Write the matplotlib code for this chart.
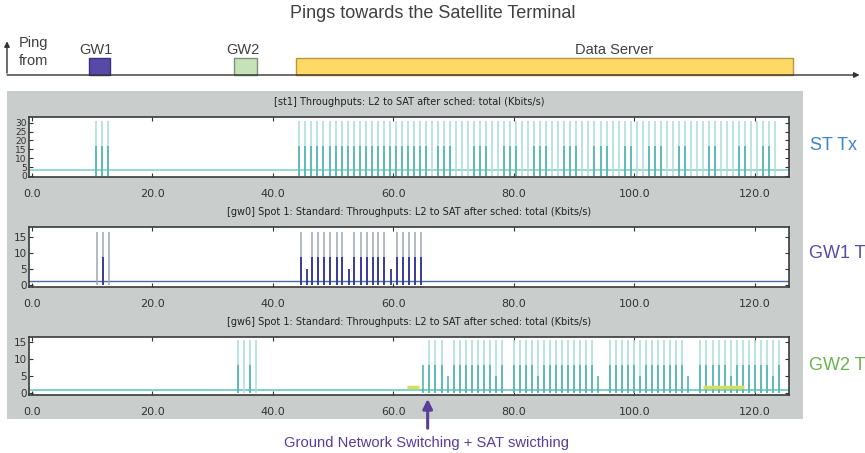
import matplotlib.pyplot as plt
from matplotlib.patches import Rectangle

W, H = 865, 453

# ---- data ----
time_ticks = [0, 20, 40, 60, 80, 100, 120]
time_labels = ["0.0", "20.0", "40.0", "60.0", "80.0", "100.0", "120.0"]

# ping sources (top diagram), seconds
ping_names = ["GW1", "GW2", "Data Server"]
ping_start = [9.4, 33.5, 43.9]
ping_end = [13.0, 37.3, 126.3]
ping_label_x = [10.6, 35.0, 96.6]

# [st1] spikes
st_t = [10.6, 11.6, 12.6,
        44.4, 45.4, 46.4, 47.4, 48.4, 49.4, 50.4, 51.4, 52.4, 53.4, 54.4, 55.4,
        56.4, 57.4, 58.4, 59.4, 60.4, 61.4, 62.4, 63.4, 64.4, 65.4, 66.4, 67.4,
        68.4, 69.4, 70.4, 71.4, 72.4, 73.4, 74.4, 75.4, 76.4, 77.4, 78.4, 79.4,
        80.4, 81.4, 82.4, 83.4, 84.4, 85.4, 86.4, 87.4, 88.4, 89.4, 90.4, 91.4,
        92.4, 93.4, 94.4, 95.4, 96.4, 97.4, 98.4, 99.4, 100.4, 101.4, 102.4,
        103.4, 104.4, 105.4, 106.4, 107.4, 108.4, 109.4, 110.4, 111.4, 112.4,
        113.4, 114.4, 115.4, 116.4, 117.4, 118.4, 119.4, 120.4, 121.4, 122.4,
        123.4]
st_peak = 31
st_dark_t = [10.6, 11.6, 12.6,
             44.4, 45.4, 46.4, 47.4, 48.4, 49.4, 50.4, 51.4, 52.4, 53.4, 54.4,
             55.4, 56.4, 57.4, 58.4, 59.4, 60.4, 61.4, 62.4, 63.4, 64.4, 65.4,
             67.4, 68.4, 69.4, 73.4, 74.4, 75.4, 78.4, 79.4, 80.4, 83.4, 84.4,
             85.4, 88.4, 89.4, 90.4, 93.4, 94.4, 95.4, 98.4, 99.4, 102.4, 103.4,
             104.4, 107.4, 108.4, 112.4, 113.4, 117.4, 118.4, 121.4, 122.4]
st_dark_v = 17
st_base = 3.2

# [gw0] spikes
gw1_t = [10.8, 11.8, 12.8, 44.6, 46.5, 47.5, 48.5, 49.5, 50.6, 51.5, 53.5,
         54.6, 55.6, 56.6, 57.5, 58.5, 60.6, 61.6, 62.6, 63.6, 64.6]
gw1_peak = 16.6
gw1_dark_t = [11.8, 44.6, 45.6, 46.5, 47.5, 48.5, 49.5, 50.6, 51.5, 52.6,
              53.5, 54.6, 55.6, 56.6, 57.5, 58.5, 59.6, 60.6, 61.6, 62.6,
              63.6, 64.6]
gw1_dark_v = [8.8, 8.8, 5.0, 8.8, 8.8, 8.8, 8.8, 8.8, 8.8, 5.0, 8.8, 8.8,
              8.8, 8.8, 8.8, 8.8, 5.0, 8.8, 8.8, 8.8, 8.8, 8.8]
gw1_base = 1.4

# [gw6] spikes
gw2_t = [34.2, 35.2, 36.2, 37.2,
         66, 67, 68, 70, 71, 72, 73, 74, 75, 76, 77, 78, 80, 81, 82, 83, 84,
         85, 86, 87, 88, 89, 90, 91, 92, 93, 96, 97, 98, 99, 100, 101, 102,
         103, 104, 105, 106, 107, 108, 111, 112, 113, 114, 115, 116, 117,
         118, 119, 120, 121, 122, 123, 124]
gw2_peak = 15.6
gw2_dark_t = [34.2, 36.2,
              65, 66, 67, 68, 69, 70, 71, 72, 73, 74, 75, 76, 77, 78, 80, 81,
              82, 83, 84, 85, 86, 87, 88, 89, 90, 91, 92, 93, 94, 96, 97, 98,
              99, 100, 101, 102, 103, 104, 105, 106, 107, 108, 109, 111, 112,
              113, 114, 115, 116, 117, 118, 119, 120, 121, 122, 123, 124]
gw2_dark_v = [8.2, 8.2,
              8.2, 8.2, 8.2, 8.2, 5.0, 8.2, 8.2, 8.2, 8.2, 8.2, 8.2, 8.2, 5.0,
              8.2, 8.2, 8.2, 8.2, 8.2, 5.0, 8.2, 8.2, 8.2, 8.2, 8.2, 8.2, 8.2,
              8.2, 8.2, 5.0, 8.2, 8.2, 8.2, 8.2, 8.2, 5.0, 8.2, 8.2, 8.2, 8.2,
              8.2, 8.2, 8.2, 5.0, 8.2, 8.2, 8.2, 8.2, 8.2, 5.0, 8.2, 8.2, 8.2,
              8.2, 8.2, 8.2, 5.0, 8.2]
gw2_base = 0.8
gw2_yel_start = [62.3, 111.5]
gw2_yel_end = [64.3, 118.3]
gw2_yel_v = 1.8

switch_t = 65.7

# ---- layout ----
xlo, xhi = -0.5, 125.7
ax_left, ax_right = 29, 789
sans = "Liberation Sans"

fig = plt.figure(figsize=(W / 100, H / 100), dpi=100)


def px_axes(x0, y0, x1, y1, **kw):
    return fig.add_axes([x0 / W, 1 - y1 / H, (x1 - x0) / W, (y1 - y0) / H], **kw)


# background (pixel coords)
bg = px_axes(0, 0, W, H)
bg.set_xlim(0, W)
bg.set_ylim(H, 0)
bg.axis("off")
bg.add_patch(Rectangle((7, 91), 796, 328, facecolor="#c9cdcc", edgecolor="none"))
# right-hand labels, as far as they show in the picture
bg.text(810, 146, "ST Tx", color="#3b86c8", fontsize=13, va="center", family=sans)
bg.text(809, 254, "GW1 T", color="#5a4aa6", fontsize=13, va="center", family=sans)
bg.text(809, 366, "GW2 T", color="#6cb24e", fontsize=13, va="center", family=sans)

# top ping diagram, same time scale as the plots
upp = (xhi - xlo) / (ax_right - ax_left)
top = px_axes(0, 0, W, 90)
top.set_xlim(xlo - ax_left * upp, xhi + (W - ax_right) * upp)
top.set_ylim(-15 / 17, 75 / 17)
top.axis("off")
tx0, tx1 = top.get_xlim()
box_face = ["#5649a8", "#c6e2b8", "#ffd966"]
box_edge = ["#3a3380", "#7c907a", "#b8963a"]
for i in range(len(ping_names)):
    top.bar(ping_start[i], 1, width=ping_end[i] - ping_start[i], align="edge",
            color=box_face[i], edgecolor=box_edge[i], linewidth=1)
    top.text(ping_label_x[i], 1.45, ping_names[i], ha="center", va="center",
             fontsize=10.5, color="#404040", family=sans)
top.annotate("", xy=(tx0 + 0.997 * (tx1 - tx0), 0), xytext=(tx0 + 0.005 * (tx1 - tx0), 0),
             arrowprops=dict(arrowstyle="-|>", color="#333333", lw=1, mutation_scale=8))
top.annotate("", xy=(tx0 + 7 * upp, 2.15), xytext=(tx0 + 7 * upp, -0.05),
             arrowprops=dict(arrowstyle="-|>", color="#333333", lw=1, mutation_scale=8))
top.text(tx0 + 19 * upp, 1.9, "Ping", fontsize=10.5, va="center", color="#404040",
         family=sans)
top.text(tx0 + 19 * upp, 0.85, "from", fontsize=10.5, va="center", color="#404040",
         family=sans)
top.text((tx0 + tx1) / 2, 3.62, "Pings towards the Satellite Terminal",
         ha="center", va="center", fontsize=13, color="#404040", family=sans)

# three throughput plots
panels = [
    ("[st1] Throughputs: L2 to SAT after sched: total (Kbits/s)", 117, 177, (-0.6, 33.2), [0, 5, 10, 15, 20, 25, 30]),
    ("[gw0] Spot 1: Standard: Throughputs: L2 to SAT after sched: total (Kbits/s)", 227, 287, (-0.6, 18.1), [0, 5, 10, 15]),
    ("[gw6] Spot 1: Standard: Throughputs: L2 to SAT after sched: total (Kbits/s)", 337, 395, (-0.6, 16.5), [0, 5, 10, 15]),
]
axs = []
for title, y0, y1, yl, yt in panels:
    ax = px_axes(ax_left, y0, ax_right, y1)
    ax.set_xlim(xlo, xhi)
    ax.set_ylim(*yl)
    ax.set_xticks(time_ticks)
    ax.set_xticklabels(time_labels, fontsize=8, color="#333333")
    ax.set_yticks(yt)
    ax.set_yticklabels([str(v) for v in yt], fontsize=7.5 if len(yt) < 5 else 6.5,
                       color="#333333")
    ax.tick_params(axis="x", direction="in", top=True, length=3, pad=8.5, color="#333333")
    ax.tick_params(axis="y", direction="in", right=True, length=3, pad=1.5, color="#333333")
    for s in ax.spines.values():
        s.set_color("#3a3a3a")
        s.set_linewidth(1.2)
    ax.annotate(title, xy=(0.5, 1), xycoords="axes fraction", xytext=(0, 10.8),
                textcoords="offset points", ha="center", va="center",
                fontsize=7, color="#222222")
    axs.append(ax)

ax1, ax2, ax3 = axs

ax1.axhline(st_base, color="#86d2cc", lw=1.2)
ax1.vlines(st_t, 0, st_peak, color="#a8ddd8", lw=1.1)
ax1.vlines(st_dark_t, 0, st_dark_v, color="#45b0aa", lw=1.1)

ax2.axhline(gw1_base, color="#4d6ea0", lw=1.0)
ax2.vlines(gw1_t, 0, gw1_peak, color="#9fa6b6", lw=1.1)
ax2.vlines(gw1_dark_t, 0, gw1_dark_v, color="#2f3592", lw=1.3)

ax3.axhline(gw2_base, color="#6ac8c2", lw=1.2)
ax3.vlines(gw2_t, 0, gw2_peak, color="#a8ddd8", lw=1.1)
ax3.vlines(gw2_dark_t, 0, gw2_dark_v, color="#45b0aa", lw=1.1)
ax3.hlines([gw2_yel_v] * len(gw2_yel_start), gw2_yel_start, gw2_yel_end,
           color="#d6de5c", lw=2.5)

# switching arrow + caption
ax3.annotate("", xy=(switch_t, -0.02), xycoords=("data", "axes fraction"),
             xytext=(switch_t, -0.62), textcoords=("data", "axes fraction"),
             arrowprops=dict(arrowstyle="-|>", color="#5a3c9c", lw=2.2, mutation_scale=14),
             annotation_clip=False)
bg.text(427, 443, "Ground Network Switching + SAT swicthing", ha="center", va="center",
        fontsize=10.6, color="#5a3c9c", family=sans)

fig.savefig("out.png", dpi=100)
